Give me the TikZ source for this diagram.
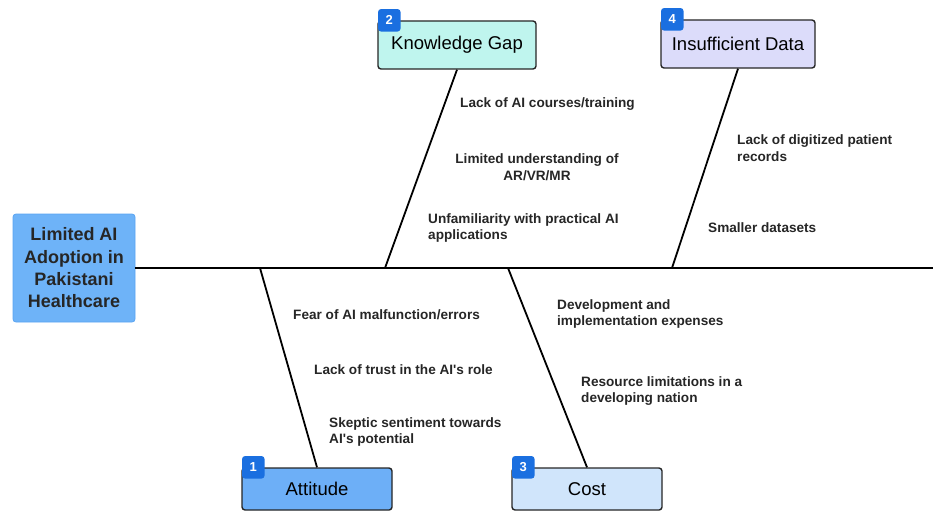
\documentclass[tikz,border=0pt]{standalone}
\usepackage{fontspec}
\setmainfont{Liberation Sans}[Ligatures=TeXOff]
\definecolor{headblue}{HTML}{6EB3F8}
\definecolor{headline}{HTML}{5AA4F2}
\definecolor{attblue}{HTML}{6DAFF7}
\definecolor{costblue}{HTML}{D0E5FB}
\definecolor{kgmint}{HTML}{BFF5EE}
\definecolor{datalav}{HTML}{DCDCFA}
\definecolor{badgeblue}{HTML}{1A6FE0}
\definecolor{textgray}{HTML}{262626}
\begin{document}
\begin{tikzpicture}[
    x=1pt, y=-1pt,
    head/.style={rectangle, rounded corners=3pt, draw=headline, line width=0.8pt, fill=headblue,
        minimum width=122pt, minimum height=108pt, align=center, text=textgray,
        font=\fontsize{18}{22.3}\selectfont\bfseries},
    category/.style={rectangle, rounded corners=3pt, draw=textgray, line width=1.4pt,
        minimum height=48pt, text=black, font=\fontsize{18.5}{22}\selectfont},
    badge/.style={rectangle, rounded corners=3pt, fill=badgeblue, minimum size=22.5pt,
        inner sep=0pt, text=white, font=\fontsize{13}{13}\selectfont\bfseries},
    cause/.style={align=left, inner sep=0pt, text=textgray,
        font=\fontsize{13.6}{16.6}\selectfont\bfseries},
    bone/.style={line width=1.8pt, black}
]
    \useasboundingbox (0,0) rectangle (933,511);

    % effect and spine
    \node[head] (problem) at (74,268) {Limited AI\\Adoption in\\Pakistani\\Healthcare};
    \coordinate (spineend) at (933,268);
    \draw[bone] (problem.east) -- (spineend);

    % categories
    \node[category, fill=kgmint, minimum width=158pt] (knowledge) at (457,45) {Knowledge Gap};
    \node[category, fill=datalav, minimum width=154pt] (data) at (738,44) {Insufficient Data};
    \node[category, fill=attblue, minimum width=150pt, minimum height=42pt] (attitude) at (317,489) {Attitude};
    \node[category, fill=costblue, minimum width=150pt, minimum height=42pt] (cost) at (587,489) {Cost};

    \node[badge] (b2) at ([xshift=12pt]knowledge.north west) {2};
    \node[badge] (b4) at ([xshift=12pt]data.north west) {4};
    \node[badge] (b1) at ([xshift=12pt]attitude.north west) {1};
    \node[badge] (b3) at ([xshift=12pt]cost.north west) {3};

    % bones
    \coordinate (kgfoot) at (385,268);
    \coordinate (datafoot) at (672,268);
    \coordinate (attfoot) at (260,268);
    \coordinate (costfoot) at (508,268);
    \draw[bone] (knowledge.south) -- (kgfoot);
    \draw[bone] (data.south) -- (datafoot);
    \draw[bone] (attitude.north) -- (attfoot);
    \draw[bone] (cost.north) -- (costfoot);

    % causes
    \node[cause, anchor=west] (kg1) at (460,104) {Lack of AI courses/training};
    \node[cause, align=center] (kg2) at (537,167) {Limited understanding of\\AR/VR/MR};
    \node[cause, anchor=west] (kg3) at (428,228) {Unfamiliarity with practical AI\\applications};

    \node[cause, anchor=west] (d1) at (737,148) {Lack of digitized patient\\records};
    \node[cause, anchor=west] (d2) at (708,228) {Smaller datasets};

    \node[cause, anchor=west] (a1) at (293,315) {Fear of AI malfunction/errors};
    \node[cause, anchor=west] (a2) at (314,370) {Lack of trust in the AI's role};
    \node[cause, anchor=west] (a3) at (329,432) {Skeptic sentiment towards\\AI's potential};

    \node[cause, anchor=west] (c1) at (557,314) {Development and\\implementation expenses};
    \node[cause, anchor=west] (c2) at (581,391) {Resource limitations in a\\developing nation};
\end{tikzpicture}
\end{document}
